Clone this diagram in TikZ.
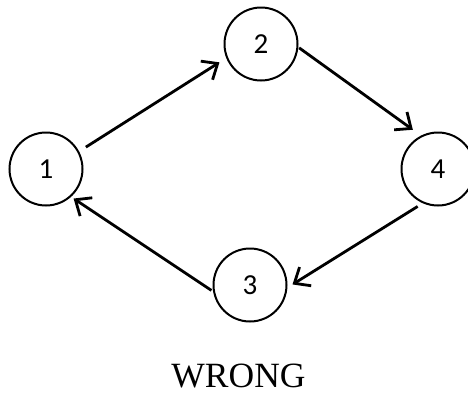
\documentclass[tikz,border=0pt]{standalone}
\usepackage{fontspec}
\setmainfont{Liberation Serif}
\newfontfamily\labfont{Carlito}
\usetikzlibrary{arrows.meta}
\begin{document}
\begin{tikzpicture}[x=1pt,y=-1pt,
  state/.style={circle,draw,line width=2pt,minimum size=73pt,inner sep=0pt,font=\labfont\fontsize{29}{32}\selectfont},
  conn/.style={line width=2.8pt,-{Straight Barb[length=13pt,width=22pt,line width=2.8pt]}}]
\useasboundingbox (0,0) rectangle (468,394);
\node[state] (n1) at (46,169) {1};
\node[state] (n2) at (261,44) {2};
\node[state] (n4) at (438,169) {4};
\node[state] (n3) at (250,285) {3};
\draw[conn,shorten <=8pt,shorten >=8pt] (n1.28) -- (n2.202);
\draw[conn,shorten <=1pt,shorten >=10pt] (n2.-5) -- (n4.117);
\draw[conn,shorten <=6pt,shorten >=6pt] (n4.246) -- (n3.-4);
\draw[conn,shorten <=2pt,shorten >=3pt] (n3.190) -- (n1.-48);
\node[font=\fontsize{35.5}{40}\selectfont,anchor=base,inner sep=0pt] (w) at (238.5,387) {WRONG};
\end{tikzpicture}
\end{document}
